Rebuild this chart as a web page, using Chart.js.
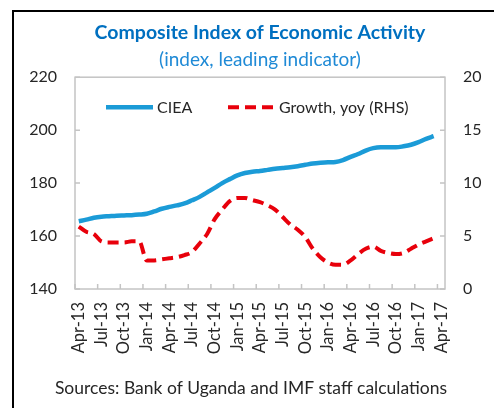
<!DOCTYPE html>
<html>
<head>
<meta charset="utf-8">
<script src="https://cdn.jsdelivr.net/npm/chart.js@4"></script>
<style>
  body { margin: 0; background: #fff; overflow: hidden; }
  #moldura { position: absolute; left: 12px; top: 10px; width: 600px; height: 600px; border: 2px solid #000; }
  #grafico { position: absolute; left: 0; top: 0; }
</style>
</head>
<body>
<div id="moldura"></div>
<canvas id="grafico" width="494" height="408"></canvas>
<script>
// Meses do eixo X (Apr-13 a Apr-17)
const meses = [
  'Apr-13','May-13','Jun-13','Jul-13','Aug-13','Sep-13','Oct-13','Nov-13','Dec-13',
  'Jan-14','Feb-14','Mar-14','Apr-14','May-14','Jun-14','Jul-14','Aug-14','Sep-14','Oct-14','Nov-14','Dec-14',
  'Jan-15','Feb-15','Mar-15','Apr-15','May-15','Jun-15','Jul-15','Aug-15','Sep-15','Oct-15','Nov-15','Dec-15',
  'Jan-16','Feb-16','Mar-16','Apr-16','May-16','Jun-16','Jul-16','Aug-16','Sep-16','Oct-16','Nov-16','Dec-16',
  'Jan-17','Feb-17','Mar-17','Apr-17'
];

// Índice CIEA (eixo esquerdo)
const ciea = [
  165.6, 166.2, 166.9, 167.3, 167.5, 167.7, 167.8, 167.9, 168.1, 168.4,
  169.3, 170.3, 171.0, 171.6, 172.3, 173.5, 174.8, 176.5, 178.2, 180.0,
  181.5, 182.9, 183.8, 184.3, 184.6, 185.0, 185.4, 185.7, 186.0, 186.4,
  186.9, 187.4, 187.7, 187.9, 188.0, 188.7, 189.9, 191.0, 192.3, 193.2,
  193.5, 193.5, 193.5, 193.9, 194.5, 195.5, 196.7, 197.7
];

// Crescimento anual, % (eixo direito)
const crescimento = [
  5.9, 5.4, 5.2, 4.5, 4.4, 4.4, 4.4, 4.5, 4.5, 2.7,
  2.7, 2.8, 2.9, 3.0, 3.2, 3.5, 4.3, 5.2, 6.6, 7.5,
  8.3, 8.6, 8.6, 8.4, 8.2, 7.9, 7.5, 6.8, 6.1, 5.6,
  4.9, 3.8, 3.0, 2.5, 2.3, 2.3, 2.7, 3.3, 3.8, 4.0,
  3.6, 3.4, 3.3, 3.4, 3.8, 4.2, 4.5, 4.8
];

const ticksEsq = [140, 160, 180, 200, 220];
const ticksDir = [0, 5, 10, 15, 20];

const fonte = 'Lato';
const corTexto = '#262626';

// Moldura da área do gráfico, marcas internas, legenda e nota de fonte
const moldura = {
  id: 'moldura',
  afterDraw(chart) {
    const { ctx, chartArea: a, scales } = chart;
    ctx.save();
    ctx.strokeStyle = '#c4c4c4';
    ctx.lineWidth = 1.5;
    ctx.strokeRect(a.left, a.top, a.right - a.left, a.bottom - a.top);

    ctx.beginPath();
    ticksEsq.forEach(v => {
      const y = scales.y.getPixelForValue(v);
      ctx.moveTo(a.left, y); ctx.lineTo(a.left + 5, y);
    });
    ticksDir.forEach(v => {
      const y = scales.y1.getPixelForValue(v);
      ctx.moveTo(a.right, y); ctx.lineTo(a.right - 5, y);
    });
    const passo = scales.x.getPixelForValue(1) - scales.x.getPixelForValue(0);
    for (let i = 0; i < meses.length; i += 3) {
      const x = scales.x.getPixelForValue(i) - passo / 2;
      ctx.moveTo(x, a.bottom); ctx.lineTo(x, a.bottom - 5);
    }
    ctx.stroke();

    // legenda dentro da área do gráfico
    const ds = chart.data.datasets;
    const yLeg = a.top + 30;
    const itens = [{ x: 106, ds: ds[0] }, { x: 228, ds: ds[1] }];
    ctx.font = '16px ' + fonte;
    ctx.textBaseline = 'middle';
    ctx.textAlign = 'left';
    itens.forEach(it => {
      ctx.beginPath();
      ctx.strokeStyle = it.ds.borderColor;
      ctx.lineWidth = it.ds.borderWidth;
      ctx.setLineDash(it.ds.borderDash || []);
      ctx.moveTo(it.x, yLeg); ctx.lineTo(it.x + 47, yLeg);
      ctx.stroke();
      ctx.setLineDash([]);
      ctx.fillStyle = corTexto;
      ctx.fillText(it.ds.label, it.x + 51, yLeg + 1);
    });

    ctx.fillStyle = corTexto;
    ctx.font = '17.5px ' + fonte;
    ctx.textAlign = 'center';
    ctx.fillText('Sources: Bank of Uganda and IMF staff calculations', 251, 388);
    ctx.restore();
  }
};

new Chart(document.getElementById('grafico'), {
  type: 'line',
  data: {
    labels: meses,
    datasets: [{
      label: 'CIEA',
      data: ciea,
      yAxisID: 'y',
      borderColor: '#1b9bd7',
      borderWidth: 4.5,
      pointRadius: 0,
      cubicInterpolationMode: 'monotone'
    }, {
      label: 'Growth, yoy (RHS)',
      data: crescimento,
      yAxisID: 'y1',
      borderColor: '#e8000b',
      borderWidth: 4,
      borderDash: [11, 6],
      pointRadius: 0,
      cubicInterpolationMode: 'monotone'
    }]
  },
  options: {
    responsive: false,
    animation: false,
    layout: { padding: 0 },
    plugins: {
      title: {
        display: true,
        fullSize: false,
        text: 'Composite Index of Economic Activity',
        color: '#0070c0',
        font: { family: fonte, size: 19.5, weight: 'bold' },
        padding: { top: 21, bottom: 2 }
      },
      subtitle: {
        display: true,
        fullSize: false,
        text: '(index, leading indicator)',
        color: '#1f8ad6',
        font: { family: fonte, size: 19 },
        padding: { top: 2, bottom: 6 }
      },
      legend: { display: false },
      tooltip: { enabled: false }
    },
    scales: {
      x: {
        offset: true,
        grid: { display: false, drawTicks: false },
        border: { display: false },
        ticks: {
          autoSkip: false,
          minRotation: 90,
          maxRotation: 90,
          padding: 13,
          color: corTexto,
          font: { family: fonte, size: 16.5 },
          callback(v, i) { return i % 3 === 0 ? meses[i] : ''; }
        },
        afterFit(s) { s.height = 119; }
      },
      y: {
        min: 140, max: 220,
        grid: { display: false, drawTicks: false },
        border: { display: false },
        ticks: { stepSize: 20, padding: 18, color: corTexto, font: { family: fonte, size: 16 } },
        afterFit(s) { s.width = 75; }
      },
      y1: {
        position: 'right',
        min: 0, max: 20,
        grid: { display: false, drawTicks: false },
        border: { display: false },
        ticks: { stepSize: 5, padding: 18, color: corTexto, font: { family: fonte, size: 16 } },
        afterFit(s) { s.width = 49; }
      }
    }
  },
  plugins: [moldura]
});
</script>
</body>
</html>
